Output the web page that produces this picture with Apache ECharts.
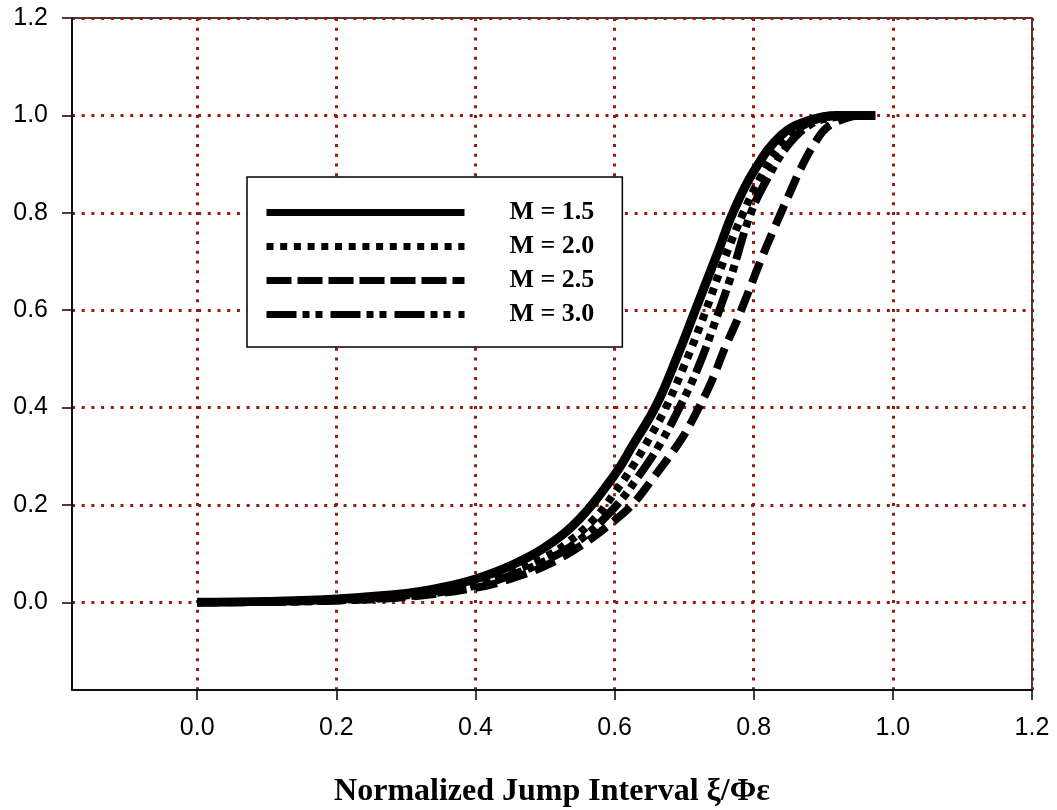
<!DOCTYPE html>
<html><head><meta charset="utf-8">
<script src="https://cdn.jsdelivr.net/npm/echarts@6/dist/echarts.min.js"></script>
<style>html,body{margin:0;padding:0;background:#fff}#chart{width:1057px;height:810px}</style>
</head><body><div id="chart"></div>
<script>
const seriesNames = ['M = 1.5', 'M = 2.0', 'M = 2.5', 'M = 3.0'];

const m15X = [0, 0.1, 0.2, 0.3, 0.35, 0.4, 0.45, 0.5, 0.55, 0.6, 0.625, 0.66, 0.69, 0.716, 0.75, 0.77, 0.8, 0.84, 0.88, 0.92, 0.975];
const m15Y = [0, 0.002, 0.007, 0.018, 0.03, 0.048, 0.075, 0.113, 0.172, 0.262, 0.32, 0.405, 0.505, 0.6, 0.725, 0.8, 0.885, 0.96, 0.99, 1.0, 1.0];

const m20X = [0, 0.1, 0.2, 0.3, 0.4, 0.45, 0.5, 0.53, 0.57, 0.6, 0.628, 0.651, 0.672, 0.698, 0.729, 0.757, 0.785, 0.81, 0.84, 0.87, 0.9, 0.94];
const m20Y = [0, 0.001, 0.005, 0.014, 0.04, 0.062, 0.093, 0.12, 0.17, 0.225, 0.284, 0.34, 0.395, 0.479, 0.591, 0.702, 0.8, 0.873, 0.94, 0.978, 0.995, 1.0];

const m25X = [0, 0.1, 0.2, 0.3, 0.4, 0.45, 0.5, 0.55, 0.6, 0.625, 0.65, 0.695, 0.719, 0.74, 0.759, 0.776, 0.793, 0.81, 0.83, 0.85, 0.87, 0.89, 0.905, 0.93, 0.95];
const m25Y = [0, 0.001, 0.004, 0.011, 0.03, 0.048, 0.075, 0.115, 0.168, 0.2, 0.245, 0.333, 0.394, 0.456, 0.524, 0.579, 0.64, 0.702, 0.77, 0.835, 0.898, 0.948, 0.975, 0.993, 1.0];

const m30X = [0, 0.1, 0.2, 0.3, 0.4, 0.45, 0.5, 0.55, 0.6, 0.63, 0.666, 0.695, 0.72, 0.747, 0.767, 0.796, 0.821, 0.85, 0.88, 0.91, 0.95];
const m30Y = [0, 0.001, 0.004, 0.012, 0.034, 0.055, 0.085, 0.128, 0.195, 0.25, 0.327, 0.405, 0.482, 0.586, 0.668, 0.8, 0.874, 0.94, 0.98, 0.995, 1.0];

const tickValues = [0, 0.2, 0.4, 0.6, 0.8, 1.0, 1.2];
const xTitle = 'Normalized Jump Interval ξ/Φε';

function pairs(xs, ys) { return xs.map((x, i) => [x, ys[i]]); }

const gridRed = '#9b1a0e';
function makeAxis(margin) {
  return {
    type: 'value', min: -0.18, max: 1.2,
    axisLine: { show: true, onZero: false, lineStyle: { color: '#000', width: 1.5 } },
    axisTick: { show: true, inside: false, length: 10, customValues: tickValues, lineStyle: { color: '#000', width: 1.5 } },
    axisLabel: { customValues: tickValues, formatter: v => Number(v).toFixed(1), fontFamily: 'Liberation Sans', fontSize: 25, color: '#000', margin: margin },
    splitLine: { show: true, lineStyle: { color: gridRed, width: 3, type: [3, 6.7] } }
  };
}

const styles = [
  { type: 'solid', width: 9, legendType: 'solid' },
  { type: [7, 6.7], width: 8, legendType: [7, 6.7] },
  { type: [22, 9], width: 8, legendType: [25, 6] },
  { type: [28, 6, 7, 6, 7, 6], width: 8, legendType: [30, 6, 7, 6, 7, 8] }
];
const dataSets = [pairs(m15X, m15Y), pairs(m20X, m20Y), pairs(m25X, m25Y), pairs(m30X, m30Y)];

const chart = echarts.init(document.getElementById('chart'), null, { renderer: 'canvas' });
const xAxis = makeAxis(26);
xAxis.name = xTitle;
xAxis.nameLocation = 'middle';
xAxis.nameGap = 86;
xAxis.nameTextStyle = { fontFamily: 'Liberation Serif', fontWeight: 'bold', fontSize: 32, color: '#000' };

chart.setOption({
  animation: false,
  backgroundColor: '#fff',
  grid: { left: 72, right: 25, top: 18, bottom: 120, containLabel: false, outerBoundsMode: 'none', show: true, borderColor: '#000', borderWidth: 1.5, backgroundColor: 'transparent' },
  xAxis: xAxis,
  yAxis: makeAxis(24),
  legend: {
    orient: 'vertical', left: 247, top: 177,
    backgroundColor: '#fff',
    borderColor: '#000', borderWidth: 1.5,
    padding: [22.5, 28, 19.5, 16],
    itemWidth: 198, itemHeight: 26, itemGap: 8,
    textStyle: { fontFamily: 'Liberation Serif', fontWeight: 'bold', fontSize: 26, color: '#000', padding: [0, 0, 0, 40] },
    itemStyle: { color: 'rgba(0,0,0,0)', borderWidth: 0, opacity: 0 },
    lineStyle: { width: 7 },
    data: seriesNames.map((n, i) => ({ name: n, lineStyle: { type: styles[i].legendType, width: 7 } }))
  },
  series: seriesNames.map((n, i) => ({
    name: n, type: 'line', data: dataSets[i], smooth: 0.4,
    symbol: 'none', z: 10 - i,
    lineStyle: { color: '#000', width: styles[i].width, type: styles[i].type, cap: 'butt' },
    itemStyle: { color: '#000' }
  }))
});
</script></body></html>
